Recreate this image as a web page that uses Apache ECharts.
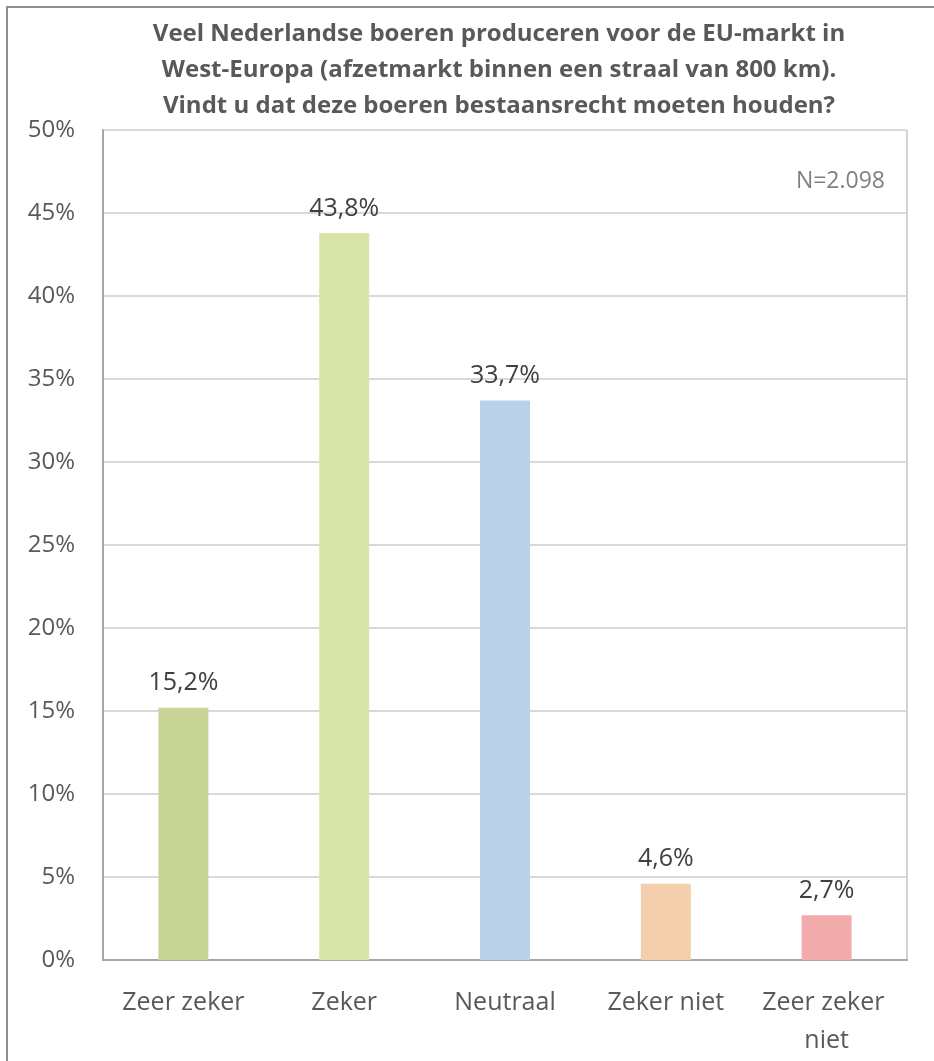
<!DOCTYPE html>
<html>
<head>
<meta charset="utf-8">
<script src="https://cdn.jsdelivr.net/npm/echarts@6/dist/echarts.min.js"></script>
<style>
  html, body { margin: 0; padding: 0; background: #ffffff; }
  #chart { width: 934px; height: 1061px; }
</style>
</head>
<body>
<div id="chart"></div>
<script>
// Survey answers and their share of respondents (%)
const categories = ['Zeer zeker', 'Zeker', 'Neutraal', 'Zeker niet', 'Zeer zeker niet'];
const shares = [15.2, 43.8, 33.7, 4.6, 2.7];
const barColors = ['#c9d597', '#d9e4aa', '#b9d2ea', '#f3cfae', '#f2abab'];
const yTicks = [0, 5, 10, 15, 20, 25, 30, 35, 40, 45, 50];
const titleLines = [
  'Veel Nederlandse boeren produceren voor de EU-markt in',
  'West-Europa (afzetmarkt binnen een straal van 800 km).',
  'Vindt u dat deze boeren bestaansrecht moeten houden?'
];
const sampleNote = 'N=2.098';

const FONT = '"Open Sans", "Noto Sans", sans-serif';
const fmt = v => v.toFixed(1).replace('.', ',') + '%';

const chart = echarts.init(document.getElementById('chart'), null, { renderer: 'canvas' });

chart.setOption({
  backgroundColor: '#ffffff',
  animation: false,
  title: {
    text: titleLines.join('\n'),
    left: 494,
    textAlign: 'center',
    top: 11,
    textStyle: {
      fontFamily: FONT,
      fontWeight: 'bold',
      fontSize: 24,
      lineHeight: 36,
      color: '#595959'
    }
  },
  graphic: [
    {
      // chart-area frame (runs past the right and bottom edges)
      type: 'rect',
      shape: { x: 7, y: 7, width: 960, height: 1100 },
      style: { fill: 'none', stroke: '#8f8f8f', lineWidth: 2 },
      silent: true
    },
    {
      type: 'text',
      x: 885,
      y: 181,
      style: {
        text: sampleNote,
        fontFamily: FONT,
        fontSize: 23,
        fill: '#808080',
        align: 'right',
        verticalAlign: 'middle'
      }
    }
  ],
  grid: {
    left: 103,
    right: 27,
    top: 130,
    bottom: 101,
    outerBoundsMode: 'none',
    containLabel: false,
    show: true,
    borderColor: '#a6a6a6',
    borderWidth: 1
  },
  xAxis: {
    type: 'category',
    data: categories,
    axisTick: { show: false },
    axisLine: { lineStyle: { color: '#a6a6a6', width: 2 } },
    axisLabel: {
      fontFamily: FONT,
      fontSize: 25,
      color: '#595959',
      margin: 24,
      lineHeight: 38,
      width: 140,
      overflow: 'break',
      interval: 0
    }
  },
  yAxis: {
    type: 'value',
    min: 0,
    max: 50,
    interval: 5,
    axisLine: { show: true, lineStyle: { color: '#a6a6a6', width: 2 } },
    axisTick: { show: false },
    splitLine: { lineStyle: { color: '#d9d9d9', width: 2 } },
    axisLabel: {
      fontFamily: FONT,
      fontSize: 24,
      color: '#595959',
      margin: 28,
      formatter: v => (yTicks.includes(v) ? v + '%' : '')
    }
  },
  series: [{
    type: 'bar',
    barWidth: 50,
    data: shares.map((v, i) => ({ value: v, itemStyle: { color: barColors[i] } })),
    label: {
      show: true,
      position: 'top',
      distance: 12,
      fontFamily: FONT,
      fontSize: 25,
      color: '#404040',
      formatter: p => fmt(p.value)
    }
  }]
});
</script>
</body>
</html>
